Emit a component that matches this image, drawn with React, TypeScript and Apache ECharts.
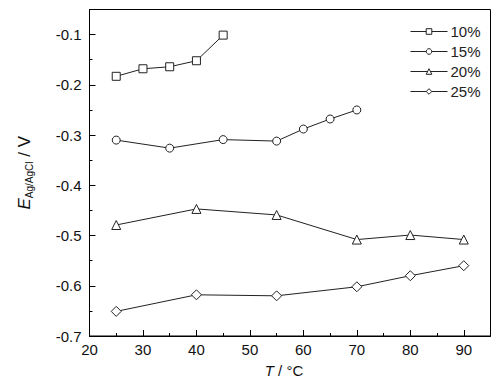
import React, { useEffect, useRef } from "react";
import * as echarts from "echarts";

const seriesNames = ["10%", "15%", "20%", "25%"];
const symbols = ["rect", "circle", "triangle", "diamond"];
const symbolSizes = [8, 8, 9, 10];

const temps10 = [25, 30, 35, 40, 45];
const vals10 = [-0.183, -0.168, -0.164, -0.152, -0.101];

const temps15 = [25, 35, 45, 55, 60, 65, 70];
const vals15 = [-0.31, -0.326, -0.309, -0.312, -0.288, -0.268, -0.25];

const temps20 = [25, 40, 55, 70, 80, 90];
const vals20 = [-0.479, -0.447, -0.459, -0.508, -0.499, -0.508];

const temps25 = [25, 40, 55, 70, 80, 90];
const vals25 = [-0.651, -0.618, -0.62, -0.602, -0.58, -0.56];

const allTemps = [temps10, temps15, temps20, temps25];
const allVals = [vals10, vals15, vals20, vals25];

const FONT = "'Liberation Sans', Arial, sans-serif";

export default function App() {
  const ref = useRef<HTMLDivElement>(null);
  useEffect(() => {
    if (!ref.current) return;
    const chart = echarts.init(ref.current, undefined, { renderer: "svg" });
    const series = seriesNames.map((name, i) => ({
      name,
      type: "line",
      xAxisIndex: 0,
      yAxisIndex: 0,
      data: allTemps[i].map((t, j) => [t, allVals[i][j]]),
      symbol: symbols[i],
      symbolSize: symbolSizes[i],
      showAllSymbol: true,
      lineStyle: { color: "#222", width: 1 },
      itemStyle: { color: "#fff", borderColor: "#222", borderWidth: 1 },
      emphasis: { disabled: true },
    }));
    chart.setOption({
      animation: false,
      textStyle: { fontFamily: FONT },
      grid: {
        left: 89.5,
        top: 9.5,
        right: 11.5,
        bottom: 49,
        show: true,
        borderColor: "#000",
        borderWidth: 1,
        backgroundColor: "transparent",
      },
      legend: {
        orient: "vertical",
        left: 410,
        top: 24,
        padding: 0,
        itemWidth: 37,
        itemHeight: 7,
        itemGap: 5,
        data: seriesNames,
        lineStyle: { width: 1, color: "#222" },
        itemStyle: { color: "#fff", borderColor: "#222", borderWidth: 1 },
        textStyle: { fontSize: 15, color: "#222", fontFamily: FONT, padding: [0, 0, 0, -2] },
      },
      xAxis: [
        {
          type: "value",
          min: 20,
          max: 95,
          interval: 10,
          name: "{i|T} / °C",
          nameLocation: "middle",
          nameGap: 27,
          nameTextStyle: {
            fontSize: 15,
            color: "#111",
            padding: [0, 12, 0, 0],
            rich: { i: { fontStyle: "italic", fontSize: 15, color: "#111", fontFamily: FONT } },
          },
          axisLine: { show: true, lineStyle: { color: "#000", width: 1 } },
          axisTick: { show: true, inside: true, length: 6, lineStyle: { color: "#000" } },
          axisLabel: {
            fontSize: 15,
            color: "#111",
            margin: 6,
            showMaxLabel: false,
            formatter: (v: number) => (v % 10 === 0 ? String(v) : ""),
          },
          splitLine: { show: false },
        },
        {
          type: "value",
          min: 20,
          max: 95,
          interval: 5,
          position: "bottom",
          axisLine: { show: false },
          axisTick: { show: true, inside: true, length: 3, lineStyle: { color: "#000" } },
          axisLabel: { show: false },
          splitLine: { show: false },
        },
      ],
      yAxis: [
        {
          type: "value",
          min: -0.7,
          max: -0.05,
          interval: 0.1,
          name: "{e|E}{s|Ag/AgCl}{v| / V}",
          nameLocation: "middle",
          nameRotate: 90,
          nameGap: 55,
          nameTextStyle: {
            color: "#111",
            rich: {
              e: { fontStyle: "italic", fontSize: 17, color: "#111", fontFamily: FONT, lineHeight: 20 },
              s: { fontSize: 10, color: "#111", fontFamily: FONT, verticalAlign: "bottom", lineHeight: 20, padding: [8, 0, 0, 0] },
              v: { fontSize: 17, color: "#111", fontFamily: FONT, lineHeight: 20 },
            },
          },
          axisLine: { show: true, lineStyle: { color: "#000", width: 1 } },
          axisTick: { show: true, inside: true, length: 6, lineStyle: { color: "#000" } },
          axisLabel: {
            fontSize: 15,
            color: "#111",
            margin: 8,
            showMaxLabel: false,
            formatter: (v: number) => v.toFixed(1),
          },
          splitLine: { show: false },
        },
        {
          type: "value",
          min: -0.7,
          max: -0.05,
          interval: 0.05,
          position: "left",
          axisLine: { show: false },
          axisTick: { show: true, inside: true, length: 3, lineStyle: { color: "#000" } },
          axisLabel: { show: false },
          splitLine: { show: false },
        },
      ],
      series,
    });
    return () => chart.dispose();
  }, []);
  return (
    <div
      ref={ref}
      style={{ position: "fixed", left: 0, top: 0, width: 502, height: 385, background: "#fff" }}
    />
  );
}
